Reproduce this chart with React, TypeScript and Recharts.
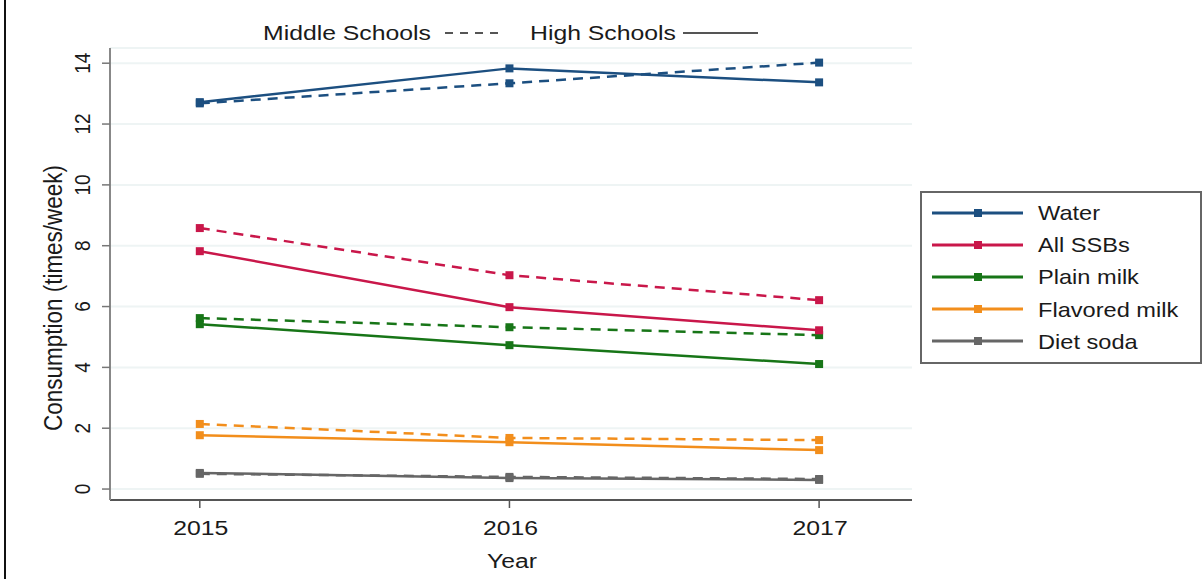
import React from 'react'
import { LineChart, Line, XAxis, YAxis, CartesianGrid } from 'recharts'

const years = [2015, 2016, 2017]
const yTicks = [0, 2, 4, 6, 8, 10, 12, 14]

const waterHigh = [12.72, 13.83, 13.37]
const waterMiddle = [12.68, 13.34, 14.02]
const ssbHigh = [7.82, 5.98, 5.22]
const ssbMiddle = [8.58, 7.03, 6.21]
const plainHigh = [5.42, 4.73, 4.11]
const plainMiddle = [5.62, 5.32, 5.06]
const flavoredHigh = [1.77, 1.54, 1.28]
const flavoredMiddle = [2.14, 1.68, 1.61]
const dietHigh = [0.53, 0.36, 0.3]
const dietMiddle = [0.5, 0.4, 0.33]

const drinks = [
  { key: 'water', name: 'Water', color: '#1c4f80', high: waterHigh, middle: waterMiddle },
  { key: 'ssb', name: 'All SSBs', color: '#c9174a', high: ssbHigh, middle: ssbMiddle },
  { key: 'plain', name: 'Plain milk', color: '#177517', high: plainHigh, middle: plainMiddle },
  { key: 'flavored', name: 'Flavored milk', color: '#f28e1c', high: flavoredHigh, middle: flavoredMiddle },
  { key: 'diet', name: 'Diet soda', color: '#666666', high: dietHigh, middle: dietMiddle },
]

const data = years.map((year, i) => {
  const row: Record<string, number> = { year }
  drinks.forEach((d) => {
    row[d.key + 'High'] = d.high[i]
    row[d.key + 'Middle'] = d.middle[i]
  })
  return row
})

const FONT = '"Liberation Sans", Arial, sans-serif'
const TEXT = '#1a1a1a'
// the source image is stretched sideways a bit, so the text is too
const SX = 1.18

const squareDot = (color: string) => (props: any) => {
  const { cx, cy, index } = props
  if (cx == null || cy == null) return <g key={index} />
  return <rect key={index} x={cx - 4} y={cy - 4} width={8} height={8} fill={color} />
}

const YTick = (props: any) => {
  const { x, y, payload } = props
  return (
    <text
      transform={`translate(${x - 10} ${y}) scale(${SX} 1) rotate(-90)`}
      textAnchor="middle"
      fontSize={19}
      fill={TEXT}
      fontFamily={FONT}
    >
      {payload.value}
    </text>
  )
}

const XTick = (props: any) => {
  const { x, y, payload } = props
  return (
    <text
      transform={`translate(${x + 1} ${y + 25}) scale(${SX} 1)`}
      textAnchor="middle"
      fontSize={21}
      fill={TEXT}
      fontFamily={FONT}
    >
      {payload.value}
    </text>
  )
}

const Txt = ({ x, y, size, anchor = 'start', rotate = 0, children }: any) => (
  <text
    transform={`translate(${x} ${y}) scale(${SX} 1)${rotate ? ` rotate(${rotate})` : ''}`}
    textAnchor={anchor}
    fontSize={size}
    fill={TEXT}
    fontFamily={FONT}
  >
    {children}
  </text>
)

const Overlay = () => (
  <svg width={1204} height={579} style={{ position: 'absolute', left: 0, top: 0, pointerEvents: 'none' }}>
    <line x1={5} y1={0} x2={5} y2={579} stroke="#111" strokeWidth={2} />
    <Txt x={263} y={40} size={21}>Middle Schools</Txt>
    <line x1={445} y1={33} x2={499} y2={33} stroke="#555" strokeWidth={2} strokeDasharray="8 7" />
    <Txt x={530} y={40} size={21}>High Schools</Txt>
    <line x1={683} y1={33} x2={758} y2={33} stroke="#555" strokeWidth={2} />
    <Txt x={512} y={568} size={21} anchor="middle">Year</Txt>
    <Txt x={62} y={298} size={22.5} anchor="middle" rotate={-90}>Consumption (times/week)</Txt>
    <rect x={921} y={192} width={280} height={171} fill="#fff" stroke="#666" strokeWidth={2} />
    {drinks.map((d, i) => (
      <g key={d.key}>
        <line x1={932} y1={213 + i * 32} x2={1023} y2={213 + i * 32} stroke={d.color} strokeWidth={3} />
        <rect x={974} y={209 + i * 32} width={8} height={8} fill={d.color} />
        <Txt x={1038} y={220 + i * 32.2} size={20}>{d.name}</Txt>
      </g>
    ))}
  </svg>
)

export default function App() {
  return (
    <div style={{ position: 'absolute', left: 0, top: 0, width: 1204, height: 579, background: '#fff' }}>
      <LineChart width={1204} height={579} data={data} margin={{ top: 48, right: 292, bottom: 0, left: 40 }}>
        <CartesianGrid vertical={false} stroke="#eef4f4" strokeWidth={2} />
        <XAxis
          dataKey="year"
          type="number"
          domain={[2014.71, 2017.3]}
          ticks={years}
          height={79}
          tick={<XTick />}
          tickSize={8}
          axisLine={{ stroke: '#555', strokeWidth: 2 }}
          tickLine={{ stroke: '#555', strokeWidth: 1.5 }}
        />
        <YAxis
          type="number"
          domain={[-0.36, 14.5]}
          ticks={yTicks}
          width={70}
          tick={<YTick />}
          tickSize={8}
          axisLine={{ stroke: '#888', strokeWidth: 2 }}
          tickLine={{ stroke: '#777', strokeWidth: 1.5 }}
        />
        {drinks.map((d) => (
          <Line
            key={d.key + 'Middle'}
            dataKey={d.key + 'Middle'}
            stroke={d.color}
            strokeWidth={2.5}
            strokeDasharray="10 7"
            dot={squareDot(d.color)}
            activeDot={false}
            isAnimationActive={false}
            type="linear"
          />
        ))}
        {drinks.map((d) => (
          <Line
            key={d.key + 'High'}
            dataKey={d.key + 'High'}
            stroke={d.color}
            strokeWidth={2.5}
            dot={squareDot(d.color)}
            activeDot={false}
            isAnimationActive={false}
            type="linear"
          />
        ))}
      </LineChart>
      <Overlay />
    </div>
  )
}
